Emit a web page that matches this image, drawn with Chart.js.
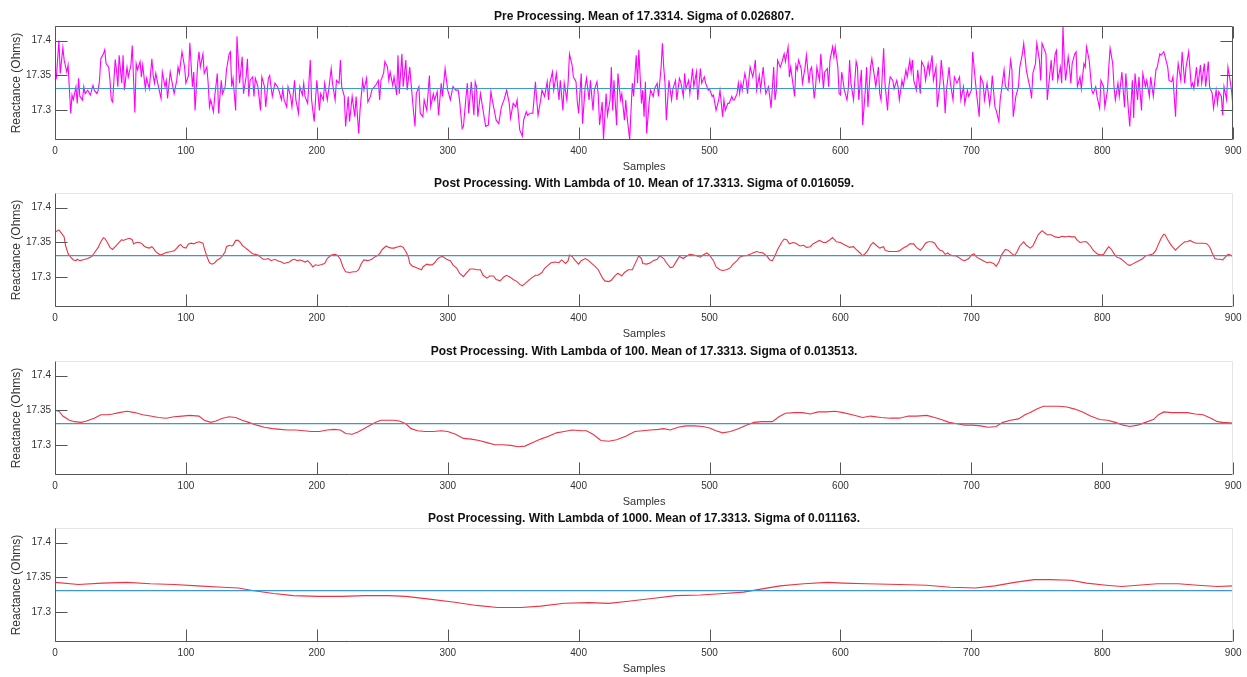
<!DOCTYPE html>
<html>
<head>
<meta charset="utf-8">
<title>Reactance filtering</title>
<script src="https://cdn.jsdelivr.net/npm/chart.js@4/dist/chart.umd.min.js"></script>
<style>
  html, body { margin: 0; padding: 0; background: #fff; }
  #wrap { position: relative; width: 1247px; height: 677px; overflow: hidden; }
  #wrap canvas { position: absolute; left: 0; }
</style>
</head>
<body>
<div id="wrap">
  <canvas id="c0" width="1247" height="180" style="top:0px"></canvas>
  <canvas id="c1" width="1247" height="180" style="top:167px"></canvas>
  <canvas id="c2" width="1247" height="180" style="top:335px"></canvas>
  <canvas id="c3" width="1247" height="180" style="top:502px"></canvas>
</div>
<script>
// ---- data -------------------------------------------------------------
const rawSamples = [0,1,3,4,6,7,9,10,12,13,14,16,17,18,19,21,22,23,25,27,29,30,32,33,34,35,37,38,39,41,42,43,44,46,47,48,49,51,52,53,55,56,58,59,61,62,63,65,66,67,69,70,72,74,75,76,77,79,81,82,84,85,86,88,90,91,93,94,95,97,99,100,102,103,105,106,107,109,110,111,113,114,116,117,118,119,121,122,124,125,127,128,130,131,133,134,135,136,138,139,141,143,144,146,147,148,149,151,152,153,155,157,158,160,161,163,164,165,166,168,170,171,173,174,175,177,178,180,181,183,184,186,187,189,190,191,193,195,196,198,199,200,202,203,205,206,208,209,211,212,214,215,217,218,219,221,222,224,225,227,229,230,232,233,235,236,238,239,241,242,244,245,247,248,249,251,252,254,255,256,258,259,261,262,263,265,266,268,269,271,272,274,275,276,278,279,281,282,284,286,287,289,290,292,293,295,296,298,
300,302,304,306,308,309,311,312,314,315,316,318,320,321,322,323,325,327,329,331,333,334,336,337,339,341,343,345,347,348,350,352,353,355,357,358,360,361,363,365,367,368,369,371,372,374,376,377,378,380,381,383,385,386,388,389,391,392,393,395,396,398,399,400,402,403,405,406,408,409,411,412,414,415,416,418,419,421,422,424,425,426,427,429,430,432,433,435,436,437,439,441,442,444,445,446,448,449,450,451,452,454,455,457,458,460,461,463,464,465,466,467,469,471,472,474,475,477,478,480,481,482,484,485,487,488,490,491,493,494,496,497,499,500,502,503,505,507,508,510,511,512,514,515,517,518,519,521,522,523,524,525,527,528,529,531,533,534,535,536,538,539,541,542,543,545,546,547,549,550,551,552,554,555,556,557,558,560,561,562,564,565,566,567,568,570,571,573,574,576,577,578,580,581,582,584,585,587,588,590,591,592,594,595,596,598,599,
600,601,603,605,606,607,608,610,612,613,614,616,617,619,620,621,623,624,626,627,629,630,631,633,634,636,637,638,640,641,643,644,645,647,648,650,651,653,654,655,656,658,659,661,662,664,665,667,668,670,671,673,674,676,677,679,680,681,683,684,686,687,689,691,692,694,695,697,698,700,701,703,704,706,707,709,710,712,714,715,716,718,719,721,722,723,725,726,728,730,731,732,734,736,737,739,740,742,743,745,746,747,749,750,752,753,754,756,757,758,760,761,762,764,765,766,768,769,770,771,772,774,775,776,777,779,780,781,783,784,786,787,788,790,792,793,795,796,798,799,801,802,804,805,806,808,809,810,812,813,815,817,818,820,821,823,824,825,827,828,830,831,833,834,836,837,839,841,842,844,845,847,848,850,851,853,854,856,857,858,860,861,863,864,866,868,869,870,872,873,875,876,878,879,881,882,884,885,887,888,889,891,892,893,895,896,898,899,900];
const rawReactance = [17.343,17.346,17.400,17.353,17.390,17.372,17.355,17.365,17.296,17.322,17.315,17.334,17.310,17.346,17.320,17.315,17.334,17.324,17.329,17.322,17.336,17.329,17.324,17.329,17.343,17.374,17.381,17.387,17.367,17.362,17.343,17.315,17.312,17.373,17.358,17.334,17.379,17.339,17.379,17.329,17.362,17.348,17.365,17.393,17.297,17.367,17.358,17.370,17.348,17.365,17.331,17.346,17.331,17.374,17.350,17.339,17.353,17.334,17.317,17.355,17.334,17.343,17.317,17.355,17.334,17.324,17.343,17.362,17.353,17.384,17.362,17.339,17.350,17.397,17.334,17.355,17.300,17.367,17.384,17.362,17.381,17.353,17.362,17.339,17.305,17.315,17.298,17.320,17.353,17.296,17.343,17.324,17.334,17.358,17.381,17.384,17.334,17.346,17.300,17.406,17.339,17.377,17.324,17.348,17.374,17.320,17.343,17.348,17.320,17.346,17.334,17.300,17.348,17.334,17.305,17.346,17.350,17.334,17.320,17.339,17.334,17.329,17.315,17.331,17.315,17.305,17.334,17.320,17.305,17.343,17.315,17.296,17.334,17.322,17.339,17.320,17.310,17.372,17.315,17.284,17.315,17.343,17.300,17.324,17.315,17.339,17.315,17.329,17.360,17.339,17.315,17.343,17.339,17.372,17.334,17.320,17.277,17.320,17.284,17.320,17.291,17.320,17.267,17.300,17.343,17.329,17.346,17.312,17.320,17.329,17.334,17.336,17.343,17.315,17.343,17.353,17.370,17.362,17.343,17.355,17.336,17.348,17.322,17.379,17.324,17.381,17.334,17.372,17.329,17.362,17.339,17.296,17.277,17.324,17.334,17.296,17.291,17.315,17.300,17.350,17.305,17.324,17.315,17.327,17.293,17.339,17.320,17.360,
17.329,17.315,17.334,17.329,17.329,17.315,17.274,17.277,17.320,17.339,17.296,17.341,17.293,17.341,17.334,17.291,17.324,17.300,17.277,17.279,17.327,17.315,17.296,17.286,17.281,17.305,17.315,17.329,17.310,17.289,17.310,17.305,17.315,17.272,17.263,17.286,17.298,17.293,17.296,17.296,17.341,17.315,17.293,17.315,17.329,17.320,17.341,17.315,17.339,17.355,17.329,17.353,17.315,17.343,17.300,17.339,17.315,17.341,17.381,17.365,17.348,17.341,17.312,17.296,17.353,17.281,17.334,17.346,17.315,17.343,17.300,17.329,17.341,17.322,17.279,17.312,17.258,17.324,17.293,17.315,17.362,17.300,17.343,17.279,17.353,17.315,17.324,17.286,17.315,17.291,17.258,17.339,17.320,17.379,17.339,17.387,17.310,17.329,17.291,17.341,17.267,17.315,17.329,17.320,17.331,17.339,17.320,17.362,17.396,17.362,17.339,17.286,17.343,17.315,17.331,17.343,17.315,17.346,17.341,17.320,17.353,17.331,17.343,17.324,17.360,17.334,17.355,17.315,17.360,17.339,17.348,17.339,17.329,17.331,17.320,17.322,17.300,17.315,17.329,17.291,17.315,17.300,17.310,17.310,17.320,17.315,17.315,17.324,17.339,17.324,17.339,17.329,17.353,17.343,17.324,17.362,17.348,17.358,17.372,17.329,17.350,17.329,17.362,17.339,17.324,17.334,17.320,17.303,17.362,17.315,17.329,17.372,17.362,17.367,17.374,17.381,17.370,17.391,17.348,17.362,17.334,17.320,17.365,17.358,17.372,17.360,17.339,17.362,17.379,17.339,17.358,17.362,17.317,17.334,17.362,17.343,17.381,17.331,17.355,17.360,17.334,17.372,17.391,17.377,17.391,17.362,17.324,
17.322,17.355,17.329,17.315,17.331,17.372,17.339,17.315,17.370,17.362,17.315,17.358,17.279,17.329,17.362,17.305,17.362,17.374,17.348,17.334,17.362,17.324,17.315,17.389,17.339,17.300,17.334,17.348,17.343,17.331,17.343,17.334,17.315,17.343,17.334,17.358,17.348,17.372,17.355,17.372,17.343,17.329,17.358,17.324,17.370,17.362,17.343,17.367,17.353,17.379,17.343,17.362,17.305,17.339,17.372,17.334,17.296,17.329,17.362,17.339,17.315,17.348,17.339,17.348,17.315,17.334,17.310,17.329,17.320,17.329,17.384,17.343,17.324,17.291,17.348,17.339,17.315,17.339,17.308,17.324,17.350,17.305,17.300,17.284,17.315,17.329,17.358,17.334,17.329,17.372,17.358,17.291,17.320,17.334,17.362,17.381,17.396,17.358,17.348,17.331,17.317,17.353,17.367,17.396,17.372,17.343,17.396,17.386,17.381,17.315,17.353,17.372,17.343,17.381,17.386,17.343,17.362,17.339,17.420,17.372,17.343,17.377,17.362,17.339,17.367,17.381,17.384,17.334,17.348,17.331,17.367,17.362,17.391,17.372,17.329,17.324,17.334,17.320,17.303,17.343,17.334,17.305,17.329,17.362,17.389,17.367,17.334,17.315,17.339,17.320,17.355,17.305,17.353,17.300,17.277,17.343,17.289,17.353,17.315,17.348,17.300,17.353,17.334,17.343,17.320,17.348,17.320,17.358,17.362,17.381,17.379,17.384,17.377,17.362,17.343,17.341,17.348,17.291,17.343,17.367,17.343,17.384,17.339,17.362,17.384,17.334,17.339,17.331,17.362,17.334,17.365,17.339,17.367,17.334,17.370,17.334,17.324,17.303,17.329,17.310,17.327,17.320,17.293,17.334,17.315,17.362,17.339,17.324,17.300];

const lambda10Samples = [0,3,5,7,8,10,12,14,16,17,19,21,23,25,28,30,33,35,37,38,40,42,44,46,47,49,51,52,55,57,59,60,62,64,66,68,70,72,74,75,77,79,81,84,86,89,91,93,95,96,98,100,102,104,106,108,110,113,114,116,118,120,122,124,126,128,130,131,133,135,136,138,140,142,143,145,147,149,151,153,155,157,159,161,163,165,168,170,173,175,177,179,181,183,185,187,189,191,193,195,197,199,201,203,206,208,211,214,216,218,220,222,225,228,230,232,234,236,239,242,244,247,248,250,253,255,257,259,262,264,266,268,270,271,273,275,277,280,281,284,286,288,290,292,294,296,297,299,
302,304,307,309,312,315,317,320,322,325,327,330,332,335,337,340,343,345,348,350,353,355,357,359,362,364,367,369,372,374,377,379,382,385,387,390,392,393,395,397,400,402,405,407,410,413,415,418,420,423,425,428,430,433,435,438,441,443,446,448,449,452,455,457,460,462,465,467,470,472,475,477,480,482,485,488,490,493,495,498,500,503,505,508,510,513,516,518,521,523,526,528,531,533,536,538,541,544,546,548,550,552,555,557,559,561,564,566,569,572,574,577,579,582,584,587,589,592,594,597,600,
602,605,607,610,612,615,617,619,621,623,625,628,630,633,634,637,640,643,645,648,651,653,656,658,661,663,665,667,670,672,674,676,678,680,682,684,686,688,690,693,695,698,700,702,704,707,709,712,714,717,719,721,723,726,728,731,733,735,737,740,742,745,747,749,751,754,756,758,761,764,767,769,772,774,777,779,781,783,786,788,791,793,796,799,801,803,805,807,809,811,814,816,819,821,823,826,828,831,833,836,839,841,843,845,847,848,850,852,854,856,858,861,863,865,867,870,872,875,878,880,882,884,886,888,890,892,894,896,898,900];
const lambda10Reactance = [17.365,17.368,17.363,17.358,17.346,17.334,17.329,17.325,17.324,17.326,17.324,17.325,17.326,17.327,17.330,17.335,17.343,17.351,17.357,17.356,17.350,17.343,17.340,17.344,17.346,17.350,17.354,17.353,17.355,17.356,17.354,17.348,17.350,17.350,17.349,17.345,17.343,17.342,17.344,17.342,17.337,17.334,17.332,17.335,17.336,17.337,17.338,17.342,17.346,17.347,17.343,17.342,17.348,17.349,17.348,17.350,17.351,17.349,17.342,17.330,17.321,17.319,17.321,17.325,17.327,17.331,17.337,17.344,17.346,17.345,17.346,17.353,17.353,17.349,17.346,17.343,17.340,17.337,17.334,17.333,17.332,17.329,17.326,17.326,17.327,17.324,17.326,17.324,17.322,17.320,17.321,17.322,17.325,17.326,17.324,17.325,17.324,17.322,17.324,17.320,17.315,17.318,17.317,17.318,17.320,17.327,17.332,17.333,17.331,17.326,17.315,17.308,17.307,17.308,17.308,17.311,17.320,17.325,17.324,17.326,17.329,17.332,17.334,17.340,17.345,17.343,17.342,17.342,17.344,17.345,17.343,17.337,17.329,17.320,17.316,17.315,17.313,17.311,17.315,17.319,17.318,17.318,17.321,17.326,17.329,17.330,17.329,17.326,
17.324,17.318,17.313,17.306,17.301,17.308,17.312,17.312,17.311,17.311,17.303,17.299,17.302,17.302,17.297,17.295,17.301,17.303,17.300,17.297,17.294,17.290,17.288,17.291,17.296,17.299,17.303,17.303,17.307,17.313,17.318,17.321,17.322,17.321,17.325,17.320,17.324,17.332,17.330,17.325,17.319,17.324,17.327,17.325,17.320,17.315,17.311,17.300,17.295,17.294,17.296,17.303,17.306,17.302,17.307,17.311,17.311,17.319,17.331,17.327,17.320,17.319,17.321,17.324,17.326,17.331,17.327,17.321,17.314,17.315,17.324,17.330,17.327,17.330,17.333,17.332,17.331,17.329,17.332,17.335,17.332,17.324,17.315,17.311,17.310,17.311,17.314,17.319,17.324,17.329,17.331,17.331,17.333,17.335,17.337,17.336,17.335,17.330,17.325,17.324,17.331,17.340,17.350,17.355,17.354,17.348,17.350,17.349,17.345,17.346,17.343,17.344,17.348,17.351,17.353,17.350,17.350,17.354,17.357,17.351,17.350,
17.348,17.345,17.343,17.344,17.340,17.335,17.331,17.334,17.339,17.346,17.350,17.345,17.342,17.344,17.339,17.337,17.337,17.337,17.338,17.342,17.345,17.348,17.348,17.343,17.339,17.343,17.349,17.351,17.351,17.349,17.343,17.339,17.338,17.333,17.335,17.332,17.331,17.331,17.329,17.325,17.324,17.327,17.332,17.334,17.329,17.326,17.324,17.321,17.322,17.320,17.316,17.322,17.332,17.340,17.339,17.334,17.331,17.337,17.345,17.351,17.346,17.342,17.345,17.353,17.361,17.367,17.364,17.361,17.361,17.358,17.357,17.359,17.358,17.359,17.358,17.358,17.353,17.350,17.351,17.351,17.345,17.339,17.334,17.332,17.333,17.339,17.344,17.340,17.334,17.329,17.327,17.324,17.319,17.317,17.319,17.322,17.324,17.327,17.331,17.332,17.334,17.339,17.348,17.356,17.362,17.361,17.354,17.348,17.343,17.339,17.343,17.348,17.351,17.351,17.353,17.350,17.349,17.349,17.349,17.348,17.344,17.335,17.327,17.326,17.326,17.325,17.329,17.333,17.332,17.330];

const lambda100Samples = [0,3,6,11,15,20,24,30,35,40,44,49,55,61,67,73,79,85,91,97,103,110,114,119,123,128,133,138,143,148,154,160,166,172,178,184,190,196,202,208,213,218,222,227,231,236,240,245,249,254,259,263,268,272,277,283,289,295,300,306,312,318,324,330,336,342,348,354,359,365,371,377,383,389,395,402,406,411,417,423,429,436,443,449,455,461,465,470,476,482,488,495,500,505,510,516,522,528,534,540,548,553,558,565,571,577,583,589,596,602,609,617,623,631,638,645,652,658,666,672,677,683,689,695,701,707,713,719,724,730,736,741,745,750,755,761,767,773,779,785,791,798,804,810,816,821,827,833,839,843,847,853,859,865,871,877,883,888,892,900];
const lambda100Reactance = [17.350,17.349,17.342,17.336,17.334,17.333,17.335,17.339,17.344,17.344,17.345,17.347,17.349,17.347,17.344,17.342,17.340,17.339,17.341,17.342,17.343,17.342,17.336,17.333,17.335,17.339,17.341,17.340,17.336,17.333,17.329,17.326,17.324,17.323,17.322,17.322,17.321,17.320,17.320,17.322,17.323,17.322,17.317,17.316,17.319,17.324,17.328,17.333,17.336,17.336,17.336,17.335,17.331,17.324,17.321,17.320,17.320,17.321,17.320,17.316,17.310,17.309,17.307,17.304,17.301,17.301,17.300,17.298,17.299,17.304,17.309,17.313,17.318,17.320,17.322,17.321,17.321,17.316,17.307,17.306,17.308,17.313,17.320,17.321,17.322,17.323,17.324,17.322,17.326,17.328,17.328,17.327,17.325,17.321,17.318,17.320,17.324,17.329,17.333,17.334,17.334,17.341,17.346,17.347,17.347,17.345,17.348,17.348,17.349,17.347,17.344,17.340,17.342,17.340,17.339,17.339,17.342,17.342,17.343,17.340,17.337,17.333,17.331,17.329,17.329,17.328,17.326,17.327,17.333,17.336,17.338,17.344,17.347,17.352,17.356,17.356,17.356,17.355,17.352,17.348,17.342,17.337,17.336,17.333,17.329,17.327,17.329,17.333,17.337,17.344,17.348,17.347,17.347,17.347,17.345,17.344,17.339,17.334,17.333,17.332];

const lambda1000Samples = [0,18,36,55,73,91,109,128,140,152,167,182,201,219,237,255,268,286,304,322,338,356,371,389,408,423,438,456,474,493,511,526,538,554,572,590,602,620,645,666,684,703,718,733,748,760,776,788,803,815,827,842,858,873,888,900];
const lambda1000Reactance = [17.343,17.340,17.342,17.343,17.341,17.340,17.338,17.336,17.335,17.331,17.327,17.324,17.323,17.323,17.324,17.324,17.323,17.319,17.315,17.310,17.307,17.307,17.309,17.313,17.314,17.313,17.316,17.320,17.324,17.325,17.327,17.329,17.333,17.338,17.341,17.343,17.342,17.341,17.340,17.339,17.336,17.335,17.338,17.343,17.347,17.347,17.346,17.342,17.339,17.337,17.339,17.341,17.341,17.339,17.337,17.338];

const seriesMeans = [17.3314, 17.3313, 17.3313, 17.3313];
const panelTitles = [
  'Pre Processing. Mean of 17.3314. Sigma of 0.026807.',
  'Post Processing. With Lambda of 10. Mean of 17.3313. Sigma of 0.016059.',
  'Post Processing. With Lambda of 100. Mean of 17.3313. Sigma of 0.013513.',
  'Post Processing. With Lambda of 1000. Mean of 17.3313. Sigma of 0.011163.'
];
const xTicks = [0, 100, 200, 300, 400, 500, 600, 700, 800, 900];
const yTicks = [17.3, 17.35, 17.4];
const yTickLabels = ['17.3', '17.35', '17.4'];

// ---- rendering --------------------------------------------------------
Chart.defaults.font.family = '"Liberation Sans", Arial, Helvetica, sans-serif';
Chart.defaults.color = '#333';

const AXIS = '#555';
const X_MIN = 0, X_MAX = 900;
const Y_MIN = 17.2576, Y_MAX = 17.4209;

// MATLAB-style axes: inward ticks, optional full box
const axisFrame = {
  id: 'axisFrame',
  afterDatasetsDraw(chart, args, opts) {
    const { ctx, chartArea: a, scales: { x, y } } = chart;
    const L = Math.round(a.left) + 0.5, R = Math.round(a.right) - 0.5;
    const T = Math.round(a.top) + 0.5, B = Math.round(a.bottom) - 0.5;
    const len = opts.tickLength;
    ctx.save();
    ctx.lineWidth = 1;
    ctx.strokeStyle = opts.boxColor;
    ctx.beginPath();
    ctx.moveTo(L, T); ctx.lineTo(R, T); ctx.lineTo(R, B);
    ctx.stroke();
    ctx.strokeStyle = AXIS;
    ctx.beginPath();
    ctx.moveTo(L, T); ctx.lineTo(L, B); ctx.lineTo(R, B);
    x.ticks.forEach(t => {
      const px = Math.round(x.getPixelForValue(t.value)) + 0.5;
      ctx.moveTo(px, B); ctx.lineTo(px, B - len);
      if (opts.mirror) { ctx.moveTo(px, T); ctx.lineTo(px, T + len); }
    });
    y.ticks.forEach(t => {
      const py = Math.round(y.getPixelForValue(t.value)) + 0.5;
      ctx.moveTo(L, py); ctx.lineTo(L + len, py);
      if (opts.mirror) { ctx.moveTo(R, py); ctx.lineTo(R - len, py); }
    });
    ctx.stroke();
    ctx.restore();
  }
};

function points(xs, ys) {
  return xs.map((s, i) => ({ x: s, y: ys[i] }));
}

const panels = [
  { samples: rawSamples, values: rawReactance, color: '#ff00ff', full: true },
  { samples: lambda10Samples, values: lambda10Reactance, color: '#ee3344', full: false },
  { samples: lambda100Samples, values: lambda100Reactance, color: '#ee3344', full: false },
  { samples: lambda1000Samples, values: lambda1000Reactance, color: '#ee3344', full: false }
];

panels.forEach((p, i) => {
  new Chart(document.getElementById('c' + i), {
    type: 'line',
    data: {
      datasets: [
        {
          data: [{ x: X_MIN, y: seriesMeans[i] }, { x: X_MAX, y: seriesMeans[i] }],
          borderColor: '#3b97d8', borderWidth: 1.2, pointRadius: 0, tension: 0
        },
        {
          data: points(p.samples, p.values),
          borderColor: p.color, borderWidth: 1.1, pointRadius: 0, tension: 0
        }
      ]
    },
    plugins: [axisFrame],
    options: {
      responsive: false,
      animation: false,
      events: [],
      layout: { padding: { top: 0, left: 0, right: 12, bottom: 4 } },
      plugins: {
        legend: { display: false },
        tooltip: { enabled: false },
        title: {
          display: true,
          text: panelTitles[i],
          color: '#111',
          fullSize: false,
          font: { size: 12, weight: 'bold' },
          padding: { top: 9.5, bottom: 2.1 }
        },
        axisFrame: {
          mirror: p.full,
          boxColor: p.full ? AXIS : '#e6e6e6',
          tickLength: 12
        }
      },
      scales: {
        x: {
          type: 'linear',
          min: X_MIN, max: X_MAX,
          grid: { display: false, drawTicks: false },
          border: { display: false },
          afterBuildTicks: s => { s.ticks = xTicks.map(v => ({ value: v })); },
          afterFit: s => { s.height = 36; },
          ticks: { font: { size: 10 }, padding: 5.5, maxRotation: 0, autoSkip: false, color: '#333' },
          title: { display: true, text: 'Samples', font: { size: 11 }, padding: { top: 0, bottom: 2.7 }, color: '#333' }
        },
        y: {
          type: 'linear',
          min: Y_MIN, max: Y_MAX,
          grid: { display: false, drawTicks: false },
          border: { display: false },
          afterBuildTicks: s => { s.ticks = yTicks.map(v => ({ value: v })); },
          afterFit: s => { s.width = 55; },
          ticks: {
            font: { size: 10 }, padding: 4, color: '#333',
            callback: (v) => yTickLabels[yTicks.indexOf(v)]
          },
          title: { display: true, text: 'Reactance (Ohms)', font: { size: 12 }, padding: { top: 9.5, bottom: 0 }, color: '#333' }
        }
      }
    }
  });
});
</script>
</body>
</html>
